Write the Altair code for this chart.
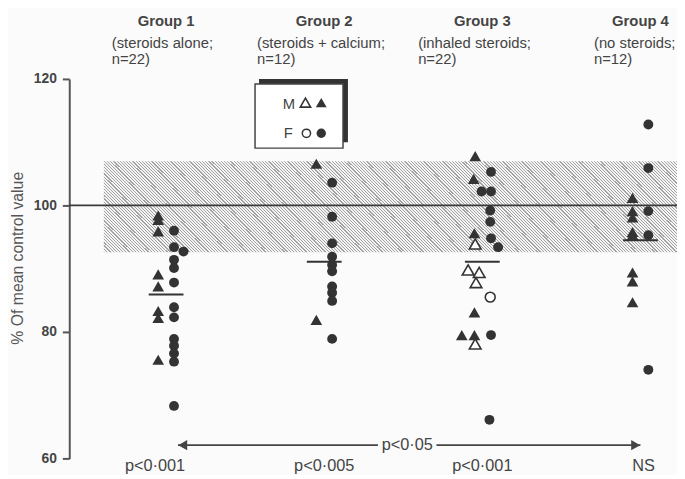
import altair as alt
import pandas as pd

# ---------------- data ----------------
group_ids = [1, 2, 3, 4]
group_titles = ["Group 1", "Group 2", "Group 3", "Group 4"]
group_sub1 = ["(steroids alone;", "(steroids + calcium;", "(inhaled steroids;", "(no steroids;"]
group_sub2 = ["n=22)", "n=12)", "n=22)", "n=12)"]
sub_left = [0.656, 1.575, 2.594, 3.706]
p_labels = ["p<0·001", "p<0·005", "p<0·001", "NS"]
p_label_x = [0.93, 2.0, 3.0, 4.02]
group_means = [85.9, 91.1, 91.1, 94.5]

ref_value = 100
band_x = [0.606, 4.23125]
band_y = [92.6, 107.0]

g1_m_filled = [98.4, 97.7, 95.9, 89.1, 87.2, 83.3, 82.2, 75.6]
g1_f_filled = [96.0, 93.4, 92.7, 91.4, 90.1, 87.8, 83.9, 82.3, 78.9, 77.8, 76.6, 75.3, 68.3]
g1_f_filled_dx = [0.05, 0.05, 0.11, 0.05, 0.05, 0.05, 0.05, 0.05, 0.05, 0.05, 0.05, 0.05, 0.05]
g2_m_filled = [106.6, 81.9]
g2_f_filled = [103.6, 98.2, 94.0, 91.9, 90.6, 89.6, 87.2, 86.2, 84.9, 78.9]
g3_m_filled = [107.8, 104.2, 95.6, 83.1, 79.5, 79.5]
g3_m_filled_dx = [-0.045, -0.055, -0.05, -0.05, -0.13, -0.05]
g3_m_open = [93.9, 89.8, 89.4, 87.8, 78.1]
g3_m_open_dx = [-0.045, -0.09, -0.02, -0.04, -0.045]
g3_f_filled = [105.3, 102.2, 102.2, 99.2, 97.4, 94.8, 93.4, 79.5, 66.1]
g3_f_filled_dx = [0.055, -0.005, 0.055, 0.05, 0.05, 0.055, 0.1, 0.055, 0.045]
g3_f_open = [85.5]
g4_m_filled = [101.2, 99.1, 98.1, 95.8, 95.3, 89.4, 88.0, 84.7]
g4_f_filled = [112.8, 105.9, 99.1, 95.3, 74.0]

arrow_y = 62.1
arrow_left = [1.075, 2.34]
arrow_right = [2.71, 4.0]
arrow_text_x = 2.525

# ---------------- build tables ----------------
rows = []


def add(group, sex, filled, values, dx=None):
    default = -0.05 if sex == "M" else 0.05
    for i, v in enumerate(values):
        d = dx[i] if dx is not None else default
        rows.append({"group": group, "sex": sex, "filled": filled, "value": v, "x": group + d})


add(1, "M", True, g1_m_filled)
add(1, "F", True, g1_f_filled, g1_f_filled_dx)
add(2, "M", True, g2_m_filled)
add(2, "F", True, g2_f_filled)
add(3, "M", True, g3_m_filled, g3_m_filled_dx)
add(3, "M", False, g3_m_open, g3_m_open_dx)
add(3, "F", True, g3_f_filled, g3_f_filled_dx)
add(3, "F", False, g3_f_open)
add(4, "M", True, g4_m_filled)
add(4, "F", True, g4_f_filled)
pts = pd.DataFrame(rows)

means = pd.DataFrame({"x": [g - 0.11 for g in group_ids], "x2": [g + 0.11 for g in group_ids], "y": group_means})
titles = pd.DataFrame({"x": group_ids, "t": group_titles, "s1": group_sub1, "s2": group_sub2, "sl": sub_left})
plab = pd.DataFrame({"x": p_label_x, "t": p_labels})
band = pd.DataFrame({"x": [band_x[0]], "x2": [band_x[1]], "y": [band_y[0]], "y2": [band_y[1]]})
refdf = pd.DataFrame({"y": [ref_value]})
arrow_seg = pd.DataFrame({"x": [arrow_left[0], arrow_right[0]], "x2": [arrow_left[1], arrow_right[1]],
                          "y": [arrow_y, arrow_y]})
arrow_heads = pd.DataFrame({"x": [arrow_left[0] + 0.03, arrow_right[1] - 0.03], "y": [arrow_y, arrow_y],
                            "shape": ["triangle-left", "triangle-right"]})
arrow_txt = pd.DataFrame({"x": [arrow_text_x], "y": [arrow_y], "t": ["p<0·05"]})
one = pd.DataFrame({"k": [0]})

FONT = "Liberation Sans"
INK = "#333333"
TXT = "#444444"

xs = alt.Scale(domain=[0.3875, 4.23125], nice=False, zero=False)
ys = alt.Scale(domain=[60, 120], nice=False, zero=False)
yaxis = alt.Axis(values=[60, 80, 100, 120], title="% Of mean control value", grid=False,
                 domainColor="#555555", domainWidth=2, tickColor="#555555", tickWidth=2, tickSize=7,
                 labelFont=FONT, labelFontWeight="bold", labelFontSize=14, labelColor=TXT, labelPadding=6,
                 titleFont=FONT, titleFontSize=16, titleFontWeight="normal", titleColor="#555555",
                 titleX=-44, titleY=181, titleAngle=270, titleBaseline="bottom", titleAlign="center")

X = lambda f="x": alt.X(f"{f}:Q", scale=xs, axis=None)
Y = lambda f="y": alt.Y(f"{f}:Q", scale=ys, axis=yaxis)

# diagonal hatching of the normal range band (style only), as a striped gradient
W_px, H_px = 580.0, 93.0
span = W_px + H_px
a = span / (W_px ** 2 + H_px ** 2)
period = 3.2
line_w = 1.2
LINE_C, GAP_C = "#a2a2a2", "#f4f4f4"
stops = []
pos = 0.0
while pos < span:
    o1 = pos / span
    o2 = min((pos + line_w) / span, 1.0)
    o3 = min((pos + period) / span, 1.0)
    stops += [alt.GradientStop(offset=o1, color=LINE_C), alt.GradientStop(offset=o2, color=LINE_C),
              alt.GradientStop(offset=o2, color=GAP_C), alt.GradientStop(offset=o3, color=GAP_C)]
    pos += period
hatch = alt.LinearGradient(gradient="linear", stops=stops, x1=0, y1=1, x2=a * W_px, y2=1 - a * H_px)

band_l = alt.Chart(band).mark_rect(fill=hatch, strokeWidth=0).encode(x=X(), x2="x2:Q", y=Y(), y2="y2:Q")
ref_l = alt.Chart(refdf).mark_rule(color="#3a3a3a", strokeWidth=1.8).encode(y=Y())
mean_l = alt.Chart(means).mark_rule(color=INK, strokeWidth=2).encode(x=X(), x2="x2:Q", y=Y())

shape_enc = alt.Shape("sex:N", scale=alt.Scale(domain=["M", "F"], range=["triangle-up", "circle"]), legend=None)
size_enc = alt.Size("sex:N", scale=alt.Scale(domain=["M", "F"], range=[140, 100]), legend=None)

filled_l = alt.Chart(pts).transform_filter("datum.filled").mark_point(
    filled=True, color=INK, opacity=1).encode(x=X(), y=Y("value"), shape=shape_enc, size=size_enc)
open_l = alt.Chart(pts).transform_filter("!datum.filled").mark_point(
    filled=False, fill="white", fillOpacity=1, stroke=INK, strokeWidth=1.6, opacity=1).encode(
    x=X(), y=Y("value"), shape=shape_enc, size=size_enc)

t_title = alt.Chart(titles).mark_text(font=FONT, fontSize=15, fontWeight="bold", color=TXT,
                                      align="center", baseline="alphabetic").encode(
    x=X(), y=alt.value(-54), text="t:N")
t_s1 = alt.Chart(titles).mark_text(font=FONT, fontSize=15, color=TXT, align="left",
                                   baseline="alphabetic").encode(x=X("sl"), y=alt.value(-31), text="s1:N")
t_s2 = alt.Chart(titles).mark_text(font=FONT, fontSize=15, color=TXT, align="left",
                                   baseline="alphabetic").encode(x=X("sl"), y=alt.value(-15), text="s2:N")
t_p = alt.Chart(plab).mark_text(font=FONT, fontSize=16.5, color=TXT, align="center",
                                baseline="alphabetic").encode(x=X(), y=alt.value(397), text="t:N")

arr_l = alt.Chart(arrow_seg).mark_rule(color="#444444", strokeWidth=1.8).encode(x=X(), x2="x2:Q", y=Y())
arr_h = alt.Chart(arrow_heads).mark_point(filled=True, color="#444444", opacity=1, size=110).encode(
    x=X(), y=Y(), shape=alt.Shape("shape:N", scale=None))
arr_t = alt.Chart(arrow_txt).mark_text(font=FONT, fontSize=16.5, color=TXT, align="center",
                                       baseline="middle").encode(x=X(), y=Y(), text="t:N")

# legend box (drawn in pixels)
lg_shadow = alt.Chart(one).mark_rect(color="#333333").encode(
    x=alt.value(192), x2=alt.value(282), y=alt.value(0), y2=alt.value(64))
lg_box = alt.Chart(one).mark_rect(fill="white", stroke="#444444", strokeWidth=1.5).encode(
    x=alt.value(188), x2=alt.value(277), y=alt.value(5), y2=alt.value(70))
lg_m = alt.Chart(one).mark_text(font=FONT, fontSize=15, color=TXT, align="left", baseline="middle",
                                text="M").encode(x=alt.value(216), y=alt.value(25))
lg_f = alt.Chart(one).mark_text(font=FONT, fontSize=15, color=TXT, align="left", baseline="middle",
                                text="F").encode(x=alt.value(217), y=alt.value(55))
lg_mo = alt.Chart(one).mark_point(shape="triangle-up", filled=False, fill="white", fillOpacity=1, stroke=INK,
                                  strokeWidth=1.6, size=110, opacity=1).encode(x=alt.value(239), y=alt.value(24))
lg_mf = alt.Chart(one).mark_point(shape="triangle-up", filled=True, color=INK, size=120, opacity=1).encode(
    x=alt.value(255), y=alt.value(24))
lg_fo = alt.Chart(one).mark_point(shape="circle", filled=False, fill="white", fillOpacity=1, stroke=INK,
                                  strokeWidth=1.5, size=70, opacity=1).encode(x=alt.value(240), y=alt.value(55))
lg_ff = alt.Chart(one).mark_point(shape="circle", filled=True, color=INK, size=90, opacity=1).encode(
    x=alt.value(255), y=alt.value(55))

chart = alt.layer(
    band_l, ref_l, mean_l, filled_l, open_l, t_title, t_s1, t_s2, t_p, arr_l, arr_h, arr_t,
    lg_shadow, lg_box, lg_m, lg_f, lg_mo, lg_mf, lg_fo, lg_ff
).properties(
    width=615, height=384,
    autosize=alt.AutoSizeParams(type="none"),
    padding={"left": 62, "top": 69, "right": 0, "bottom": 14},
    background="#fbfbfb",
).configure_view(stroke=None)

chart.save("out.html", embed_options={"renderer": "svg", "actions": False})
